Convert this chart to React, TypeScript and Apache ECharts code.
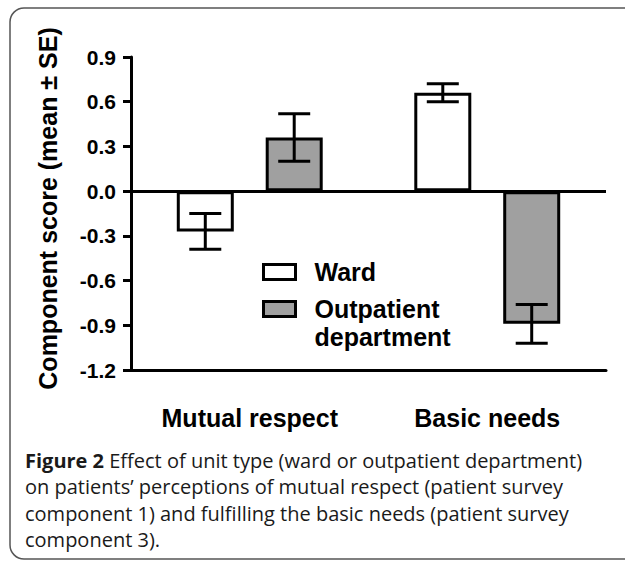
import React, { useEffect, useRef } from "react";
import * as echarts from "echarts";

const categories = ["Mutual respect", "Basic needs"];
const seriesNames = ["Ward", "Outpatient department"];
const wardMean = [-0.27, 0.66];
const wardSE = [0.12, 0.06];
const outMean = [0.36, -0.89];
const outSE = [0.16, 0.13];
const yMin = -1.2;
const yMax = 0.9;
const yStep = 0.3;
const yAxisName = "Component score (mean \u00b1 SE)";
const captionBold = "Figure 2";
const captionLines = [
  " Effect of unit type (ward or outpatient department)",
  "on patients\u2019 perceptions of mutual respect (patient survey",
  "component 1) and fulfilling the basic needs (patient survey",
  "component 3).",
];

const FONT = "'Liberation Sans', Arial, sans-serif";
const CAP_FONT = "'Open Sans', 'Noto Sans', sans-serif";
const BAR_W = 57;
const BAR_GAP = 0.56;

let shapeRegistered = false;

export default function App() {
  const ref = useRef<HTMLDivElement>(null);
  useEffect(() => {
    if (!ref.current) return;
    if (!shapeRegistered) {
      echarts.graphic.registerShape(
        "cardBorder",
        echarts.graphic.extendPath(
          "M 640 8 H 24 A 14 14 0 0 0 10 22 V 545 A 14 14 0 0 0 24 559 H 640",
          {}
        )
      );
      shapeRegistered = true;
    }
    const chart = echarts.init(ref.current, undefined, { renderer: "svg" });
    const half = (BAR_W + BAR_W * BAR_GAP) / 2;
    const errData: number[][] = [];
    categories.forEach((_, i) => {
      errData.push([i, wardMean[i], wardSE[i], -1]);
      errData.push([i, outMean[i], outSE[i], 1]);
    });
    const axisLine = { color: "#000", width: 3 };
    const legendText = {
      fontFamily: FONT,
      fontSize: 25,
      fontWeight: "bold",
      color: "#000",
      lineHeight: 28,
      padding: [0, 0, 0, 14],
    };
    const option: any = {
      animation: false,
      graphic: [
        {
          type: "cardBorder",
          z: -10,
          silent: true,
          style: { fill: "none", stroke: "#555", lineWidth: 1.5 },
        },
      ],
      title: {
        left: 25,
        top: 447,
        padding: 0,
        text: "{b|" + captionBold + "}" + captionLines.join("\n"),
        textStyle: {
          fontFamily: CAP_FONT,
          fontSize: 20,
          fontWeight: "normal",
          color: "#1a1a1a",
          lineHeight: 26.5,
          rich: {
            b: {
              fontFamily: CAP_FONT,
              fontSize: 20,
              fontWeight: "bold",
              color: "#1a1a1a",
              lineHeight: 26.5,
            },
          },
        },
      },
      legend: [
        {
          data: [seriesNames[0]],
          orient: "vertical",
          left: 262,
          top: 258,
          padding: 0,
          icon: "rect",
          itemWidth: 32,
          itemHeight: 15,
          itemStyle: { borderColor: "#000", borderWidth: 3 },
          textStyle: legendText,
          selectedMode: false,
        },
        {
          data: [seriesNames[1]],
          orient: "vertical",
          left: 262,
          top: 267,
          padding: 0,
          icon: "rect",
          itemWidth: 32,
          itemHeight: 15,
          itemStyle: { borderColor: "#000", borderWidth: 3 },
          formatter: (n: string) => "\n" + n.replace(" ", "\n"),
          textStyle: legendText,
          selectedMode: false,
        },
      ],
      grid: { left: 131, top: 57, width: 475, height: 313, outerBoundsMode: "none" },
      xAxis: {
        type: "category",
        data: categories,
        axisLine: { onZero: false, lineStyle: axisLine },
        axisTick: { alignWithLabel: true, length: 18, lineStyle: axisLine },
        axisLabel: {
          margin: 35,
          fontFamily: FONT,
          fontSize: 25,
          fontWeight: "bold",
          color: "#000",
        },
        splitLine: { show: false },
      },
      yAxis: {
        type: "value",
        min: yMin,
        max: yMax,
        interval: yStep,
        axisLine: { show: true, lineStyle: axisLine },
        axisTick: { show: true, length: 8, lineStyle: axisLine },
        splitLine: { show: false },
        axisLabel: {
          margin: 15,
          fontFamily: FONT,
          fontSize: 21,
          fontWeight: "bold",
          color: "#000",
          formatter: (v: number) => v.toFixed(1),
        },
        name: yAxisName,
        nameLocation: "middle",
        nameGap: 71,
        nameTextStyle: {
          fontFamily: FONT,
          fontSize: 25,
          fontWeight: "bold",
          color: "#000",
          padding: [0, 0, 0, 10],
        },
      },
      series: [
        {
          name: seriesNames[0],
          type: "bar",
          data: wardMean,
          barWidth: BAR_W,
          barGap: BAR_GAP * 100 + "%",
          itemStyle: { color: "#ffffff", borderColor: "#000", borderWidth: 3 },
          markLine: {
            silent: true,
            symbol: ["none", "none"],
            label: { show: false },
            lineStyle: { color: "#000", width: 3, type: "solid" },
            data: [{ yAxis: 0 }],
          },
        },
        {
          name: seriesNames[1],
          type: "bar",
          data: outMean,
          barWidth: BAR_W,
          barGap: BAR_GAP * 100 + "%",
          itemStyle: { color: "#a0a0a0", borderColor: "#000", borderWidth: 3 },
        },
        {
          type: "custom",
          data: errData,
          encode: { x: 0, y: 1 },
          z: 5,
          renderItem: (params: any, api: any) => {
            const ci = api.value(0);
            const m = api.value(1);
            const se = api.value(2);
            const side = api.value(3);
            const x = api.coord([ci, m])[0] + side * half;
            const yt = api.coord([ci, m + se])[1];
            const yb = api.coord([ci, m - se])[1];
            const cap = 16;
            const st = { stroke: "#000", lineWidth: 3 };
            return {
              type: "group",
              children: [
                { type: "line", shape: { x1: x, y1: yt, x2: x, y2: yb }, style: st },
                { type: "line", shape: { x1: x - cap, y1: yt, x2: x + cap, y2: yt }, style: st },
                { type: "line", shape: { x1: x - cap, y1: yb, x2: x + cap, y2: yb }, style: st },
              ],
            };
          },
        },
      ],
    };
    chart.setOption(option);
    return () => chart.dispose();
  }, []);
  return (
    <div
      ref={ref}
      style={{ position: "absolute", left: 0, top: 0, width: 625, height: 562, background: "#fff" }}
    />
  );
}
